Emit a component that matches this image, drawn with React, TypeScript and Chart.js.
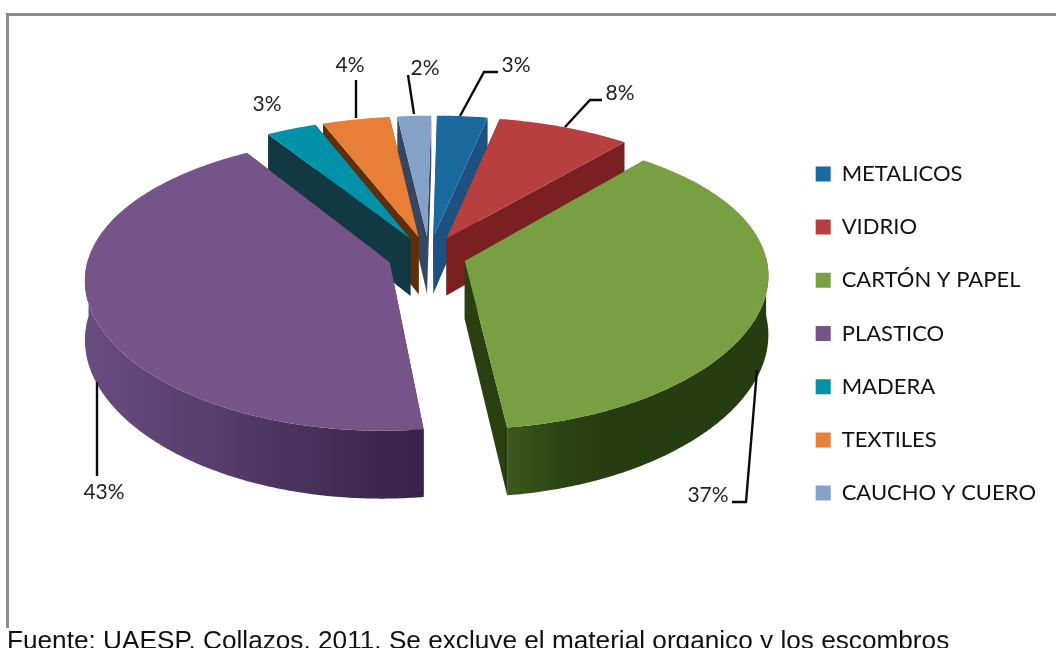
import React, { useEffect, useRef } from "react";
import { Chart, registerables } from "chart.js";

Chart.register(...registerables);

const categories = ["METALICOS", "VIDRIO", "CARTÓN Y PAPEL", "PLASTICO", "MADERA", "TEXTILES", "CAUCHO Y CUERO"];
const values = [3, 8, 37, 43, 3, 4, 2];
const topColors = ["#1b6a9f", "#b83f3f", "#78a042", "#765388", "#0191a8", "#e97f37", "#84a2c7"];
const wallColors = ["#1f5082", "#7a2022", "#2a4012", "#3a2350", "#113843", "#5f2f0a", "#344660"];
const wallGradients: (string[] | null)[] = [
  null,
  null,
  ["#3b5a1c", "#2b4414", "#263d11", "#263d11", "#263d11", "#263d11"],
  ["#6a4c80", "#59406f", "#47305a", "#38204a"],
  null,
  null,
  null,
];
const sliceNudge = [4, 4, 1, 3, 3, 3, 4];
const labelSpots = [
  [516, 65],
  [620, 93],
  [708, 495],
  [104, 492],
  [267, 104],
  [350, 65],
  [425, 68],
];
const leaders = [
  [[460, 116], [484, 72], [498, 72]],
  [[565, 127], [590, 100], [602, 100]],
  [[757, 370], [746, 502], [732, 502]],
  [[97, 382], [97, 476]],
  [],
  [[356, 118], [356, 80]],
  [[414, 114], [408, 75]],
];

const CX = 425;
const CY = 255.6;
const R = 301;
const K = 0.475;
const GX = 0.1;
const GY = 0.14;
const DEPTH = 58;
const EXPLODE = 0.134;
const SHEAR = 4;

function project(X: number, Y: number, Z: number): [number, number] {
  const wx = 1 / (1 - GX * Y);
  const wy = 1 / (1 - GY * Y);
  return [CX + R * X * wx - SHEAR * Y, CY + (R * K * Y + DEPTH * Z) * wy];
}

function fillPoly(ctx: CanvasRenderingContext2D, pts: [number, number][], fill: string | CanvasGradient) {
  ctx.beginPath();
  pts.forEach((p, i) => (i ? ctx.lineTo(p[0], p[1]) : ctx.moveTo(p[0], p[1])));
  ctx.closePath();
  ctx.fillStyle = fill;
  ctx.fill();
}

const pie3d = {
  id: "pie3d",
  beforeDatasetDraw(chart: any) {
    const ctx: CanvasRenderingContext2D = chart.ctx;
    const arcs = chart.getDatasetMeta(0).data.map((el: any, index: number) => ({
      index,
      start: el.startAngle as number,
      end: el.endAngle as number,
    }));
    const order = [...arcs].sort(
      (a: any, b: any) => Math.sin((a.start + a.end) / 2) - Math.sin((b.start + b.end) / 2),
    );
    for (const a of order) {
      ctx.save();
      ctx.translate(sliceNudge[a.index], 0);
      const mid = (a.start + a.end) / 2;
      const ex = EXPLODE * Math.cos(mid);
      const ey = EXPLODE * Math.sin(mid);
      const rim = (t: number, z: number) => project(ex + Math.cos(t), ey + Math.sin(t), z);
      const apex = (z: number) => project(ex, ey, z);
      const steps = Math.max(2, Math.ceil((a.end - a.start) / 0.01));
      const wall = wallColors[a.index];

      fillPoly(ctx, [apex(0), rim(a.start, 0), rim(a.start, 1), apex(1)], wall);
      fillPoly(ctx, [apex(0), rim(a.end, 0), rim(a.end, 1), apex(1)], wall);

      // outer, camera-facing part of the rim
      const topPts: [number, number][] = [];
      const botPts: [number, number][] = [];
      let minX = Infinity;
      let maxX = -Infinity;
      for (let i = 0; i <= steps; i++) {
        const t = a.start + ((a.end - a.start) * i) / steps;
        if (Math.sin(t) < -0.03) continue;
        const p = rim(t, 0);
        topPts.push(p);
        botPts.unshift(rim(t, 1));
        minX = Math.min(minX, p[0]);
        maxX = Math.max(maxX, p[0]);
      }
      if (topPts.length > 1) {
        let fill: string | CanvasGradient = wall;
        const stops = wallGradients[a.index];
        if (stops) {
          const g = ctx.createLinearGradient(minX, 0, maxX, 0);
          stops.forEach((c, i) => g.addColorStop(i / (stops.length - 1), c));
          fill = g;
        }
        fillPoly(ctx, [...topPts, ...botPts], fill);
      }

      const face: [number, number][] = [apex(0)];
      for (let i = 0; i <= steps; i++) face.push(rim(a.start + ((a.end - a.start) * i) / steps, 0));
      fillPoly(ctx, face, topColors[a.index]);
      ctx.restore();
    }
    return false;
  },
  afterDatasetsDraw(chart: any) {
    const ctx: CanvasRenderingContext2D = chart.ctx;
    ctx.save();
    ctx.strokeStyle = "#0a0a0a";
    ctx.lineWidth = 2.4;
    leaders.forEach((line) => {
      if (!line.length) return;
      ctx.beginPath();
      line.forEach((p, i) => (i ? ctx.lineTo(p[0], p[1]) : ctx.moveTo(p[0], p[1])));
      ctx.stroke();
    });
    ctx.fillStyle = "#222";
    ctx.font = "21px Lato";
    ctx.textAlign = "center";
    ctx.textBaseline = "middle";
    values.forEach((v, i) => ctx.fillText(`${v}%`, labelSpots[i][0], labelSpots[i][1]));
    ctx.restore();
  },
};

export default function App() {
  const ref = useRef<HTMLCanvasElement>(null);
  useEffect(() => {
    const chart = new Chart(ref.current!, {
      type: "pie",
      data: {
        labels: categories,
        datasets: [{ data: values, backgroundColor: topColors, borderWidth: 0 }],
      },
      options: {
        responsive: false,
        animation: false,
        events: [],
        layout: { padding: { top: 19, bottom: 0, left: 0, right: 10 } },
        plugins: {
          tooltip: { enabled: false },
          legend: {
            position: "right",
            labels: {
              boxWidth: 15,
              boxHeight: 15,
              padding: 31.2,
              color: "#111",
              font: { family: "Lato", size: 22 },
            },
          },
        },
      },
      plugins: [pie3d],
    } as any);
    return () => chart.destroy();
  }, []);
  return (
    <div style={{ position: "fixed", inset: 0, overflow: "hidden", background: "#fff" }}>
      <canvas ref={ref} width={1056} height={648} style={{ position: "absolute", left: 0, top: 0 }} />
      <div style={{ position: "absolute", left: 6, top: 13, width: 1060, height: 615, borderTop: "3px solid #8c8c8c", borderLeft: "3px solid #8c8c8c", boxSizing: "border-box" }} />
      <div style={{ position: "absolute", left: 7, top: 625, whiteSpace: "nowrap", fontFamily: "'Liberation Sans'", fontSize: 26.2, lineHeight: "30px", color: "#111" }}>
        Fuente: UAESP, Collazos, 2011. Se excluye el material organico y los escombros
      </div>
    </div>
  );
}
